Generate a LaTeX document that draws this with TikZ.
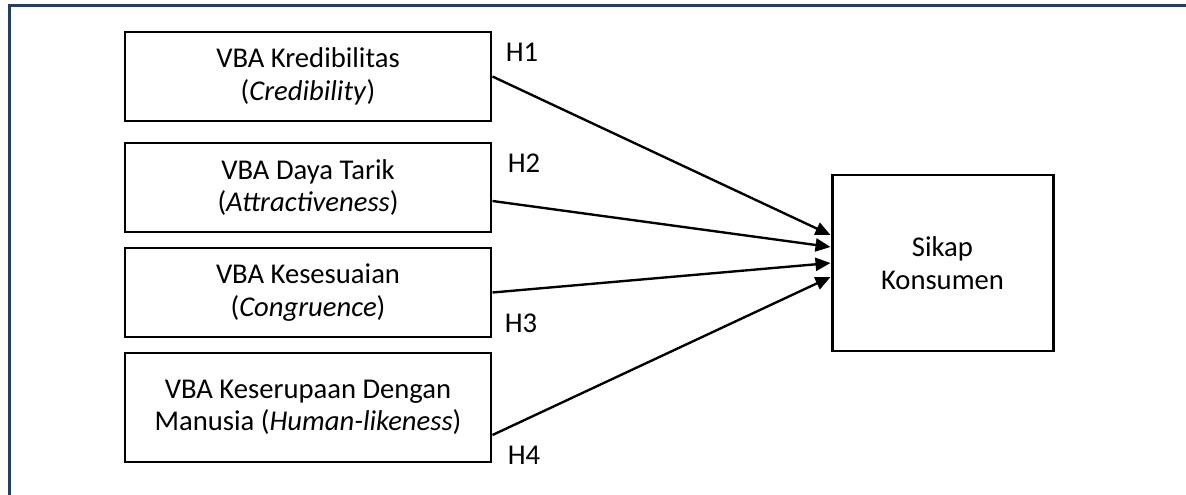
\documentclass[tikz,border=0pt]{standalone}
\usepackage{fontspec}
\setmainfont{Carlito}
\usepackage{xcolor}
\usepackage{tikz}
\usetikzlibrary{arrows.meta,positioning,calc}
\definecolor{frameblue}{RGB}{36,63,96}

\begin{document}
\begin{tikzpicture}[
    varbox/.style={rectangle, draw, line width=1.7pt, minimum width=7.32cm, minimum height=1.78cm, align=center, font=\fontsize{16.3}{18.5}\selectfont},
    tallbox/.style={varbox, minimum height=2.18cm},
    depbox/.style={varbox, minimum width=4.42cm, minimum height=3.52cm},
    hyp/.style={font=\fontsize{16.3}{18.5}\selectfont},
    arrow/.style={-{Triangle[length=0.3cm, width=0.26cm]}, line width=1.35pt}
]
\useasboundingbox (0,0) rectangle (23.72,-9.9);

% outer frame
\draw[frameblue, line width=1.7pt] (0.19,-9.9) -- (0.19,-0.11) -- (23.72,-0.11);

% variables
\node[varbox] (kred) at (6.16,-1.53) {VBA Kredibilitas\\(\textit{Credibility})};
\node[varbox] (daya) at (6.16,-3.75) {VBA Daya Tarik\\(\textit{Attractiveness})};
\node[varbox] (sesuai) at (6.16,-5.85) {VBA Kesesuaian\\(\textit{Congruence})};
\node[tallbox] (manusia) at (6.16,-8.15) {VBA Keserupaan Dengan\\Manusia (\textit{Human-likeness})};
\node[depbox] (sikap) at (18.85,-5.26) {Sikap\\Konsumen};

% hypotheses
\draw[arrow] (kred.east) -- ($(sikap.west)+(0,0.56)$);
\draw[arrow] ($(daya.east)+(0,-0.27)$) -- ($(sikap.west)+(0,0.32)$);
\draw[arrow] (sesuai.east) -- (sikap.west);
\draw[arrow] ($(manusia.east)+(0,-0.55)$) -- ($(sikap.west)+(0,-0.28)$);

\node[hyp] (h1) at (10.44,-1.04) {H1};
\node[hyp] (h2) at (10.48,-3.26) {H2};
\node[hyp] (h3) at (10.42,-6.46) {H3};
\node[hyp] (h4) at (10.48,-9.1) {H4};

\end{tikzpicture}
\end{document}
